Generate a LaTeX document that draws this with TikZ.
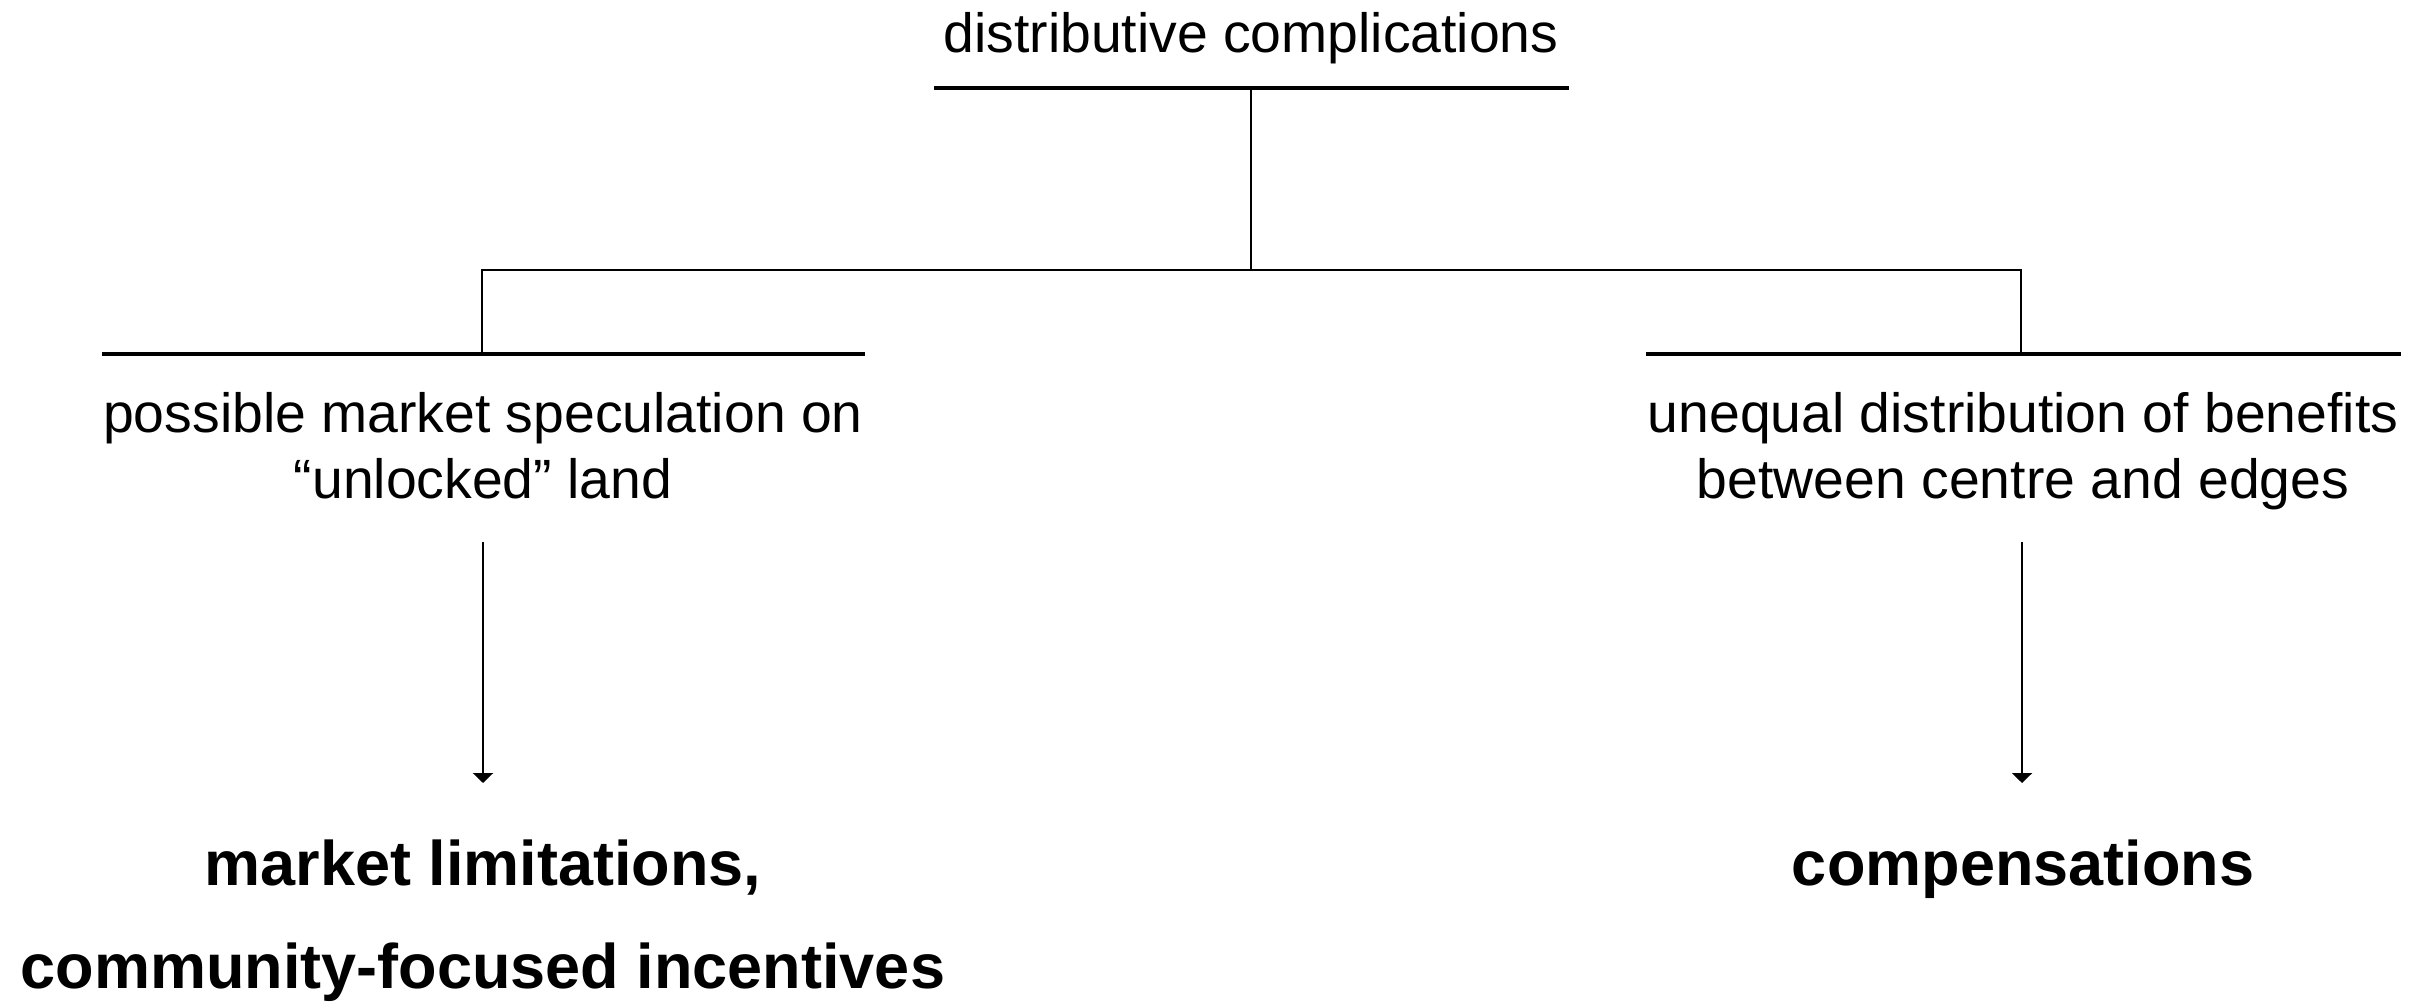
\documentclass[tikz,border=0pt]{standalone}
\usepackage{fontspec}
\setmainfont{Liberation Sans}
\usetikzlibrary{arrows.meta}

\tikzset{
  txt/.style={font=\fontsize{16.6}{19.8}\selectfont, align=center, inner sep=0pt, anchor=base},
  goal/.style={font=\fontsize{18.9}{30.9}\selectfont\bfseries, align=center, inner sep=0pt, anchor=base},
  bar/.style={line width=1pt},
  link/.style={line width=0.7pt},
  arr/.style={line width=0.7pt, -{Triangle[length=3pt,width=6pt]}},
}

\begin{document}
\begin{tikzpicture}[x=0.3pt, y=0.3pt]

  \useasboundingbox (0,0) rectangle (2421,1002);

  % --- Root ---
  \node[txt] (root) at (1251, 949) {distributive complications};
  \draw[bar] (934, 914) -- (1569, 914);
  \coordinate (rootbar) at (1251, 914);

  % --- Fork ---
  \coordinate (fork) at (1251, 732);
  \coordinate (leftbar) at (482, 648);
  \coordinate (rightbar) at (2021, 648);
  \draw[link] (rootbar) -- (fork);
  \draw[link] (leftbar) |- (fork) -| (rightbar);

  % --- Branch bars ---
  \draw[bar] (102, 648) -- (865, 648);
  \draw[bar] (1646, 648) -- (2401, 648);

  % --- Branch texts (base = last line) ---
  \node[txt] (spec) at (483, 503) {possible market speculation on\\“unlocked” land};
  \node[txt] (unequal) at (2023, 503) {unequal distribution of benefits\\between centre and edges};

  % --- Arrows ---
  \coordinate (specfrom) at (483, 460);
  \coordinate (specto) at (483, 219);
  \coordinate (unequalfrom) at (2022, 460);
  \coordinate (unequalto) at (2022, 219);
  \draw[arr] (specfrom) -- (specto);
  \draw[arr] (unequalfrom) -- (unequalto);

  % --- Responses ---
  \node[goal] (limits) at (483, 14) {market limitations,\\community-focused incentives};
  \node[goal] (compens) at (2023, 117) {compensations};

\end{tikzpicture}
\end{document}
